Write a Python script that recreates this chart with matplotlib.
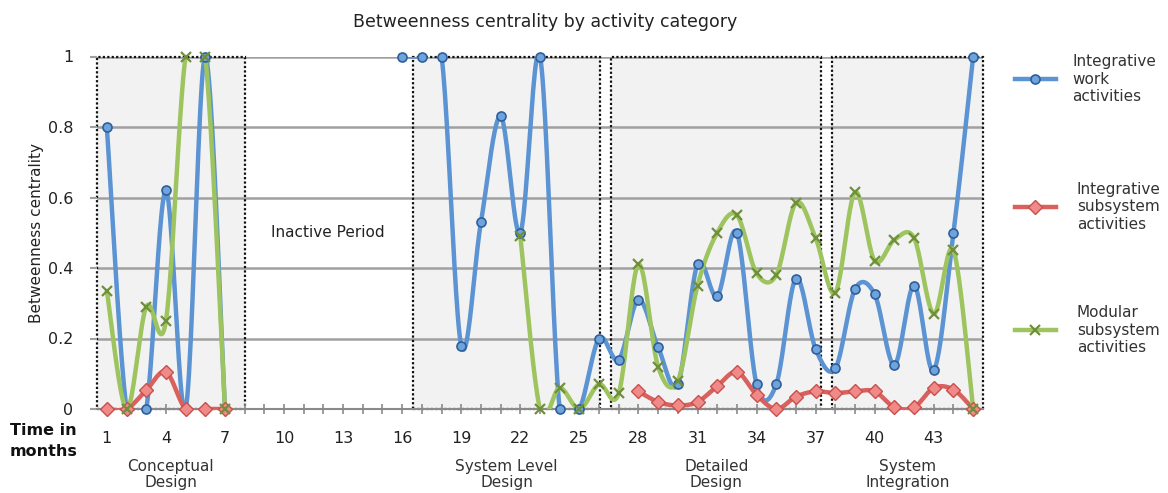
import numpy as np
import matplotlib

matplotlib.use('Agg')
import matplotlib.pyplot as plt
from matplotlib.patches import Rectangle
from matplotlib.lines import Line2D

nan = np.nan

# Data (months 1..45)
months = np.arange(1, 46)

integrative_work = [0.80, 0.0, 0.0, 0.62, 0.0, 1.0, 0.0] + [nan] * 8 + \
    [1.0, 1.0, 1.0, 0.18, 0.53, 0.83, 0.50, 1.0, 0.0, 0.0,
     0.20, 0.14, 0.31, 0.175, 0.07, 0.41, 0.32, 0.50, 0.07, 0.07, 0.37, 0.17,
     0.115, 0.34, 0.325, 0.125, 0.35, 0.11, 0.50, 1.0]

integrative_subsystem = [0.0, 0.0, 0.053, 0.105, 0.0, 0.0, 0.0] + [nan] * 20 + \
    [0.05, 0.02, 0.01, 0.02, 0.065, 0.105, 0.04, 0.0, 0.035, 0.05,
     0.045, 0.05, 0.05, 0.005, 0.005, 0.06, 0.055, 0.0]

modular_subsystem = [0.335, 0.0, 0.29, 0.25, 1.0, 1.0, 0.0] + [nan] * 14 + \
    [0.49, 0.0, 0.06, 0.0,
     0.07, 0.045, 0.41, 0.12, 0.08, 0.35, 0.50, 0.55, 0.385, 0.38, 0.585, 0.485,
     0.33, 0.615, 0.42, 0.48, 0.485, 0.27, 0.45, 0.0]

# Phases (start, end in month units) and their labels
phase_spans = [(0.5, 8.0), (16.56, 26.06), (26.62, 37.29), (37.85, 45.5)]
phase_labels = ['Conceptual\nDesign', 'System Level\nDesign', 'Detailed\nDesign', 'System\nIntegration']

xtick_months = list(range(1, 46, 3))
yticks = [0, 0.2, 0.4, 0.6, 0.8, 1.0]
ytick_labels = ['0', '0.2', '0.4', '0.6', '0.8', '1']


def smooth(xs, ys, n=24):
    # Excel-like smoothed line: cubic bezier through the points, broken at gaps
    xs = np.asarray(xs, float)
    ys = np.asarray(ys, float)
    ok = ~np.isnan(ys)
    runs = []
    cur = []
    for i in range(len(xs)):
        if ok[i]:
            cur.append(i)
        elif cur:
            runs.append(cur)
            cur = []
    if cur:
        runs.append(cur)
    out_x, out_y = [], []
    t = np.linspace(0, 1, n)
    for run in runs:
        P = np.column_stack([xs[run], ys[run]])
        k = len(P)
        for i in range(k - 1):
            p0 = P[i - 1] if i > 0 else P[i]
            p1 = P[i]
            p2 = P[i + 1]
            p3 = P[i + 2] if i + 2 < k else P[i + 1]
            c1 = p1 + (p2 - p0) / 6
            c2 = p2 - (p3 - p1) / 6
            b = ((1 - t) ** 3)[:, None] * p1 + (3 * (1 - t) ** 2 * t)[:, None] * c1 + \
                (3 * (1 - t) * t ** 2)[:, None] * c2 + (t ** 3)[:, None] * p2
            out_x.extend(b[:, 0])
            out_y.extend(b[:, 1])
        out_x.append(nan)
        out_y.append(nan)
    return np.array(out_x), np.array(out_y)


fig = plt.figure(figsize=(11.68, 4.93), dpi=100)
ax = fig.add_axes([97 / 1168, 1 - 409 / 493, (983 - 97) / 1168, (409 - 56.5) / 493])

ax.set_xlim(0.5, 45.5)
ax.set_ylim(0, 1)

# phase boxes
for (a, b) in phase_spans:
    ax.add_patch(Rectangle((a, 0), b - a, 1, facecolor='#f2f2f2', edgecolor='none', zorder=0.2))
for (a, b) in phase_spans:
    ax.add_patch(Rectangle((a, 0), b - a, 1, facecolor='none', edgecolor='#111111',
                           linestyle=(0, (1, 1)), linewidth=1.6, zorder=1.5, clip_on=False))

# grid
for yv in yticks[1:]:
    ax.axhline(yv, color='#a0a0a0', linewidth=1.8, zorder=1)

series = [
    (integrative_work, '#5b93d3', dict(marker='o', markersize=6.5, markerfacecolor='#6fa3de',
                                       markeredgecolor='#2e5f98', markeredgewidth=1.2)),
    (integrative_subsystem, '#d9605c', dict(marker='D', markersize=7.5, markerfacecolor='#ef8a88',
                                            markeredgecolor='#c8504c', markeredgewidth=1.0)),
    (modular_subsystem, '#9dc45f', dict(marker='x', markersize=7, markeredgecolor='#6f8f3a',
                                        markeredgewidth=1.6)),
]

for vals, col, mk in series:
    sx, sy = smooth(months, vals)
    ax.plot(sx, sy, color=col, linewidth=3.2, solid_capstyle='round', zorder=3)
for vals, col, mk in series:
    ax.plot(months, vals, linestyle='none', zorder=4, clip_on=False, **mk)

for s in ['top', 'right', 'left']:
    ax.spines[s].set_visible(False)
ax.spines['bottom'].set_color('#8a8a8a')
ax.spines['bottom'].set_linewidth(1.5)

ax.set_xticks(xtick_months)
ax.set_xticks(months, minor=True)
ax.tick_params(axis='x', which='both', direction='inout', length=7, color='#8a8a8a', width=1.2,
               labelsize=11.5, pad=12, labelcolor='#222222')
ax.set_yticks(yticks)
ax.set_yticklabels(ytick_labels)
ax.tick_params(axis='y', length=5, color='#a0a0a0', width=1.5, labelsize=11.5, pad=12,
               labelcolor='#222222')

ax.set_ylabel('Betweenness centrality', fontsize=11, color='#222222', labelpad=3)

ax.text(12.2, 0.5, 'Inactive Period', fontsize=11, ha='center', va='center', color='#222222')

fig.text(545 / 1168, 1 - 22 / 493, 'Betweenness centrality by activity category',
         fontsize=12.5, ha='center', va='center', color='#222222')

fig.text(10 / 1168, 1 - 441 / 493, 'Time in\nmonths', fontsize=11.5, fontweight='bold',
         ha='left', va='center', color='#111111', linespacing=1.5)

for (a, b), lab in zip(phase_spans, phase_labels):
    ax.text((a + b) / 2, -0.186, lab, fontsize=11, ha='center', va='center',
            color='#333333', transform=ax.get_xaxis_transform(), linespacing=1.15)

# legend drawn by hand on the right
legend_items = [
    ('Integrative\nwork\nactivities', 79, 1072),
    ('Integrative\nsubsystem\nactivities', 207, 1077),
    ('Modular\nsubsystem\nactivities', 330, 1077),
]
for (lab, ypix, xtxt), (vals, col, mk) in zip(legend_items, series):
    yf = 1 - ypix / 493
    fig.add_artist(Line2D([1015 / 1168, 1056 / 1168], [yf, yf], transform=fig.transFigure,
                          color=col, linewidth=3.2))
    fig.add_artist(Line2D([1035 / 1168], [yf], transform=fig.transFigure, linestyle='none', **mk))
    fig.text(xtxt / 1168, yf, lab, fontsize=11, ha='left', va='center', color='#333333',
             linespacing=1.2)

fig.savefig('out.png', dpi=100)
